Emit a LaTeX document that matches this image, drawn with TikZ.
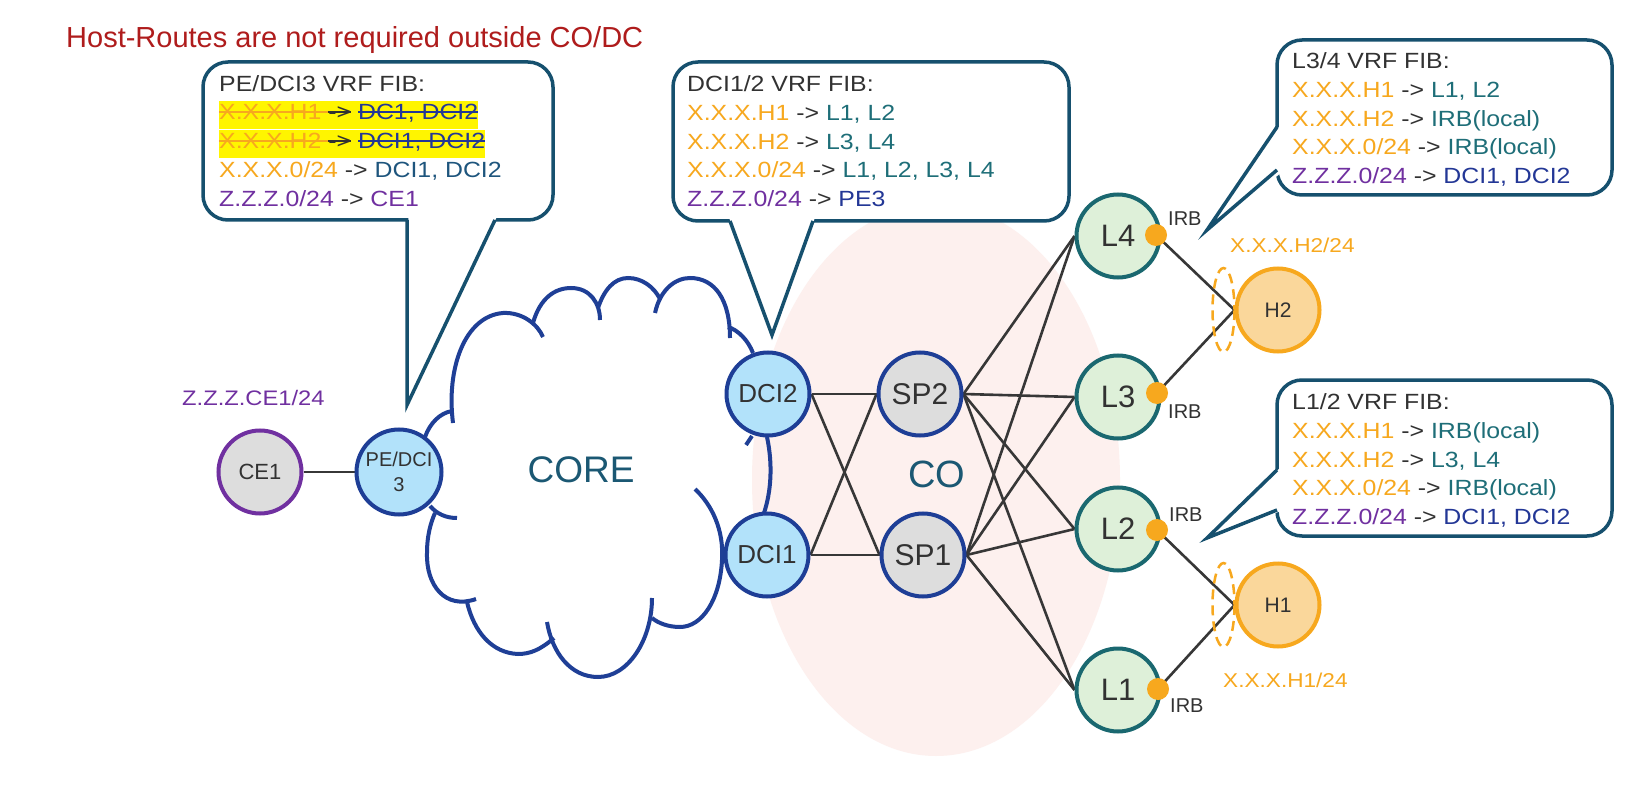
\documentclass[tikz,border=0pt]{standalone}
\usepackage{fontspec}
\setmainfont{Liberation Sans}
\newfontfamily\fibfont[FakeStretch=1.13]{Liberation Sans}
\usetikzlibrary{calc}
\pgfdeclarelayer{bg}
\pgfsetlayers{bg,main}

\definecolor{txt}{RGB}{50,50,50}
\definecolor{dcifill}{RGB}{178,226,250}
\definecolor{navyline}{RGB}{30,62,150}
\definecolor{grayfill}{RGB}{221,221,221}
\definecolor{leaffill}{RGB}{222,240,217}
\definecolor{leafline}{RGB}{26,104,112}
\definecolor{hostfill}{RGB}{250,215,155}
\definecolor{orng}{RGB}{247,168,30}
\definecolor{purp}{RGB}{112,48,160}
\definecolor{pinkzone}{RGB}{253,240,238}
\definecolor{cloudcol}{RGB}{31,63,150}
\definecolor{calloutline}{RGB}{22,80,110}
\definecolor{tealtxt}{RGB}{30,110,120}
\definecolor{tealblue}{RGB}{30,85,125}
\definecolor{navy}{RGB}{35,55,150}
\definecolor{titlered}{RGB}{175,28,28}
\definecolor{coretxt}{RGB}{27,88,115}
\definecolor{linkgray}{RGB}{55,55,55}
\definecolor{hlyellow}{RGB}{255,245,0}

% struck-through text: #1 rule colour, #2 text
\newsavebox\strkbox
\newcommand\struck[2]{\sbox\strkbox{#2}\usebox\strkbox\llap{\textcolor{#1}{\rule[6.6pt]{\wd\strkbox}{2.4pt}}}}

\tikzset{
  net/.style={circle, minimum size=83pt, inner sep=0pt, line width=4pt, text=txt},
  dci/.style={net, fill=dcifill, draw=navyline, font=\fontsize{26}{28}\selectfont},
  spine/.style={net, fill=grayfill, draw=navyline, font=\fontsize{30}{32}\selectfont},
  leaf/.style={net, fill=leaffill, draw=leafline, font=\fontsize{31}{33}\selectfont},
  host/.style={net, fill=hostfill, draw=orng, font=\fontsize{21}{23}\selectfont},
  cenode/.style={net, fill=grayfill, draw=purp, font=\fontsize{22}{24}\selectfont},
  link/.style={draw=linkgray, line width=2.6pt},
  irbdot/.style={circle, fill=orng, minimum size=22pt, inner sep=0pt},
  irblabel/.style={anchor=base west, inner sep=0pt, text=txt, font=\fontsize{20}{22}\selectfont},
  addrlabel/.style={anchor=base west, inner sep=0pt, font=\fibfont\fontsize{20}{22}\selectfont},
  fibline/.style={anchor=base west, inner sep=0pt, text=txt, font=\fibfont\fontsize{22}{26}\selectfont},
  hl/.style={fill=hlyellow, text height=19pt, text depth=9pt},
  cloudline/.style={draw=cloudcol, line width=4pt},
  callout/.style={draw=calloutline, line width=3.5pt},
  calloutbox/.style={callout, fill=white, rounded corners=25pt},
  hostring/.style={draw=orng, line width=2.5pt, dash pattern=on 10pt off 6pt},
  zonelabel/.style={anchor=base, inner sep=0pt, text=coretxt},
}

\begin{document}
\begin{tikzpicture}[x=1pt,y=-1pt]
\useasboundingbox (0,0) rectangle (1647,786);

\begin{pgfonlayer}{bg}
\fill[white] (0,0) rectangle (1647,786);
% CO zone
\fill[pinkzone] (936,480) ellipse [x radius=184, y radius=276];

% CORE cloud outline, lobe by lobe
\draw[cloudline] (425,437) .. controls (430,423) and (440,413) .. (452,411);
\draw[cloudline] (453,423) .. controls (446,368) and (465,316) .. (503,313) .. controls (523,312) and (538,325) .. (543,337);
\draw[cloudline] (533,323) .. controls (540,298) and (555,288) .. (571,288) .. controls (590,288) and (600,303) .. (600,320);
\draw[cloudline] (598,308) .. controls (604,290) and (614,278) .. (628,278) .. controls (642,278) and (654,287) .. (660,299);
\draw[cloudline] (655,313) .. controls (660,290) and (675,278) .. (690,278) .. controls (715,278) and (730,300) .. (730,338);
\draw[cloudline] (728,327) .. controls (738,330) and (748,340) .. (753,353);
\draw[cloudline] (752,436) -- (746,445);
\draw[cloudline] (767,437) .. controls (773,465) and (771,492) .. (764,513);
\draw[cloudline] (695,489) .. controls (712,505) and (724,530) .. (722,560) .. controls (720,600) and (702,627) .. (680,627) .. controls (668,627) and (658,623) .. (652,618);
\draw[cloudline] (652,598) .. controls (652,640) and (628,677) .. (598,677) .. controls (570,677) and (552,652) .. (547,622);
\draw[cloudline] (554,638) .. controls (540,650) and (530,654) .. (518,654) .. controls (492,653) and (474,632) .. (467,602);
\draw[cloudline] (476,599) .. controls (445,610) and (426,585) .. (427,553) .. controls (427,535) and (431,522) .. (435,513);
\draw[cloudline] (430,506) .. controls (437,514) and (446,518) .. (457,518);
\end{pgfonlayer}

\node[zonelabel, font=\fontsize{37}{40}\selectfont] (core) at (581,482) {CORE};
\node[zonelabel, font=\fontsize{38}{40}\selectfont] (co) at (937,487) {CO};

% network nodes
\node[cenode] (ce1) at (260,472) {CE1};
\node[dci, minimum size=85pt, font=\fontsize{20}{25}\selectfont, align=center] (pe3) at (399,472) {PE/DCI\\3};
\node[dci] (dci2) at (768,394) {DCI2};
\node[dci] (dci1) at (767,555) {DCI1};
\node[spine] (sp2) at (920,394) {SP2};
\node[spine] (sp1) at (923,555) {SP1};
\node[leaf] (l4) at (1118,236) {L4};
\node[leaf] (l3) at (1118,397) {L3};
\node[leaf] (l2) at (1118,529) {L2};
\node[leaf] (l1) at (1118,690) {L1};
\node[host] (h2) at (1278,310) {H2};
\node[host] (h1) at (1278,605) {H1};

% IRB interfaces
\node[irbdot] (irb4) at (1156,235) {};
\node[irbdot] (irb3) at (1157,393) {};
\node[irbdot] (irb2) at (1157,530) {};
\node[irbdot] (irb1) at (1158,689) {};

% links, kept beneath the nodes
\begin{pgfonlayer}{bg}
\draw[link] (ce1) -- (pe3);
\draw[link] (dci2.east) -- (sp2.west);
\draw[link] (dci2.east) -- (sp1.west);
\draw[link] (dci1.east) -- (sp1.west);
\draw[link] (dci1.east) -- (sp2.west);
\foreach \s in {sp1,sp2}{
  \foreach \l in {l1,l2,l3,l4}{
    \draw[link] (\s.east) -- (\l.west);
  }
}
\draw[link] (irb4.center) -- (h2.west);
\draw[link] (irb3.center) -- (h2.west);
\draw[link] (irb2.center) -- (h1.west);
\draw[link] (irb1.center) -- (h1.west);
\end{pgfonlayer}

% host attachment rings
\draw[hostring] ($(h2.west)+(-11,0)$) ellipse [x radius=11, y radius=42];
\draw[hostring] ($(h1.west)+(-11,0)$) ellipse [x radius=11, y radius=42];

% labels
\node[irblabel] (t4) at (1168,226) {IRB};
\node[irblabel] (t3) at (1168,418) {IRB};
\node[irblabel] (t2) at (1169,521) {IRB};
\node[irblabel] (t1) at (1170,712) {IRB};
\node[addrlabel, text=orng] (h2addr) at (1230,253) {X.X.X.H2/24};
\node[addrlabel, text=orng] (h1addr) at (1223,687) {X.X.X.H1/24};
\node[addrlabel, text=purp, font=\fibfont\fontsize{21}{23}\selectfont] (ceaddr) at (182,405) {Z.Z.Z.CE1/24};

\node[anchor=base west, inner sep=0pt, text=titlered, font=\fontsize{29}{32}\selectfont] (title) at (66,48) {Host-Routes are not required outside CO/DC};

% ---- FIB callout of PE/DCI3
\draw[calloutbox] (203,62) rectangle (553,220);
\fill[white] (408.5,216.5) -- (497,216.5) -- (407,405) -- cycle;
\draw[callout] (407,220) -- (407,405) -- (495,220);
\node[fibline] (a1) at (219,92) {PE/DCI3 VRF FIB:};
\node[fibline, hl] (a2) at (219,120) {\struck{orng}{\textcolor{orng}{X.X.X.H1}\ }\struck{txt}{->}\ \struck{navy}{\textcolor{navy}{DC1, DCI2}}};
\node[fibline, hl] (a3) at (219,149) {\struck{orng}{\textcolor{orng}{X.X.X.H2}\ }\struck{txt}{->}\ \struck{navy}{\textcolor{navy}{DCI1, DCI2}}};
\node[fibline] (a4) at (219,178) {\textcolor{orng}{X.X.X.0/24} -> \textcolor{tealblue}{DCI1, DCI2}};
\node[fibline] (a5) at (219,207) {\textcolor{purp}{Z.Z.Z.0/24} -> \textcolor{purp}{CE1}};

% ---- FIB callout of DCI1/2
\draw[calloutbox] (673,62) rectangle (1069,221);
\fill[white] (729,217.5) -- (815,217.5) -- (772,335) -- cycle;
\draw[callout] (730,221) -- (772,335) -- (813,221);
\node[fibline] (b1) at (687,92) {DCI1/2 VRF FIB:};
\node[fibline] (b2) at (687,121) {\textcolor{orng}{X.X.X.H1} -> \textcolor{tealtxt}{L1, L2}};
\node[fibline] (b3) at (687,150) {\textcolor{orng}{X.X.X.H2} -> \textcolor{tealtxt}{L3, L4}};
\node[fibline] (b4) at (687,178) {\textcolor{orng}{X.X.X.0/24} -> \textcolor{tealtxt}{L1, L2, L3, L4}};
\node[fibline] (b5) at (687,207) {\textcolor{purp}{Z.Z.Z.0/24} -> \textcolor{navy}{PE3}};

% ---- FIB callout of L3/4
\draw[calloutbox] (1277,40) rectangle (1612,195);
\fill[white] (1281,124) -- (1281,173) -- (1207,230) -- cycle;
\draw[callout] (1277,127) -- (1207,230) -- (1277,170);
\node[fibline] (c1) at (1292,69) {L3/4 VRF FIB:};
\node[fibline] (c2) at (1292,98) {\textcolor{orng}{X.X.X.H1} -> \textcolor{tealtxt}{L1, L2}};
\node[fibline] (c3) at (1292,127) {\textcolor{orng}{X.X.X.H2} -> \textcolor{tealtxt}{IRB(local)}};
\node[fibline] (c4) at (1292,155) {\textcolor{orng}{X.X.X.0/24} -> \textcolor{tealtxt}{IRB(local)}};
\node[fibline] (c5) at (1292,184) {\textcolor{purp}{Z.Z.Z.0/24} -> \textcolor{navy}{DCI1, DCI2}};

% ---- FIB callout of L1/2
\draw[calloutbox] (1277,380) rectangle (1612,536);
\fill[white] (1281,467) -- (1281,511) -- (1207,538) -- cycle;
\draw[callout] (1277,470) -- (1207,538) -- (1277,510);
\node[fibline] (d1) at (1292,409) {L1/2 VRF FIB:};
\node[fibline] (d2) at (1292,438) {\textcolor{orng}{X.X.X.H1} -> \textcolor{tealtxt}{IRB(local)}};
\node[fibline] (d3) at (1292,467) {\textcolor{orng}{X.X.X.H2} -> \textcolor{tealtxt}{L3, L4}};
\node[fibline] (d4) at (1292,495) {\textcolor{orng}{X.X.X.0/24} -> \textcolor{tealtxt}{IRB(local)}};
\node[fibline] (d5) at (1292,524) {\textcolor{purp}{Z.Z.Z.0/24} -> \textcolor{navy}{DCI1, DCI2}};

\end{tikzpicture}
\end{document}
